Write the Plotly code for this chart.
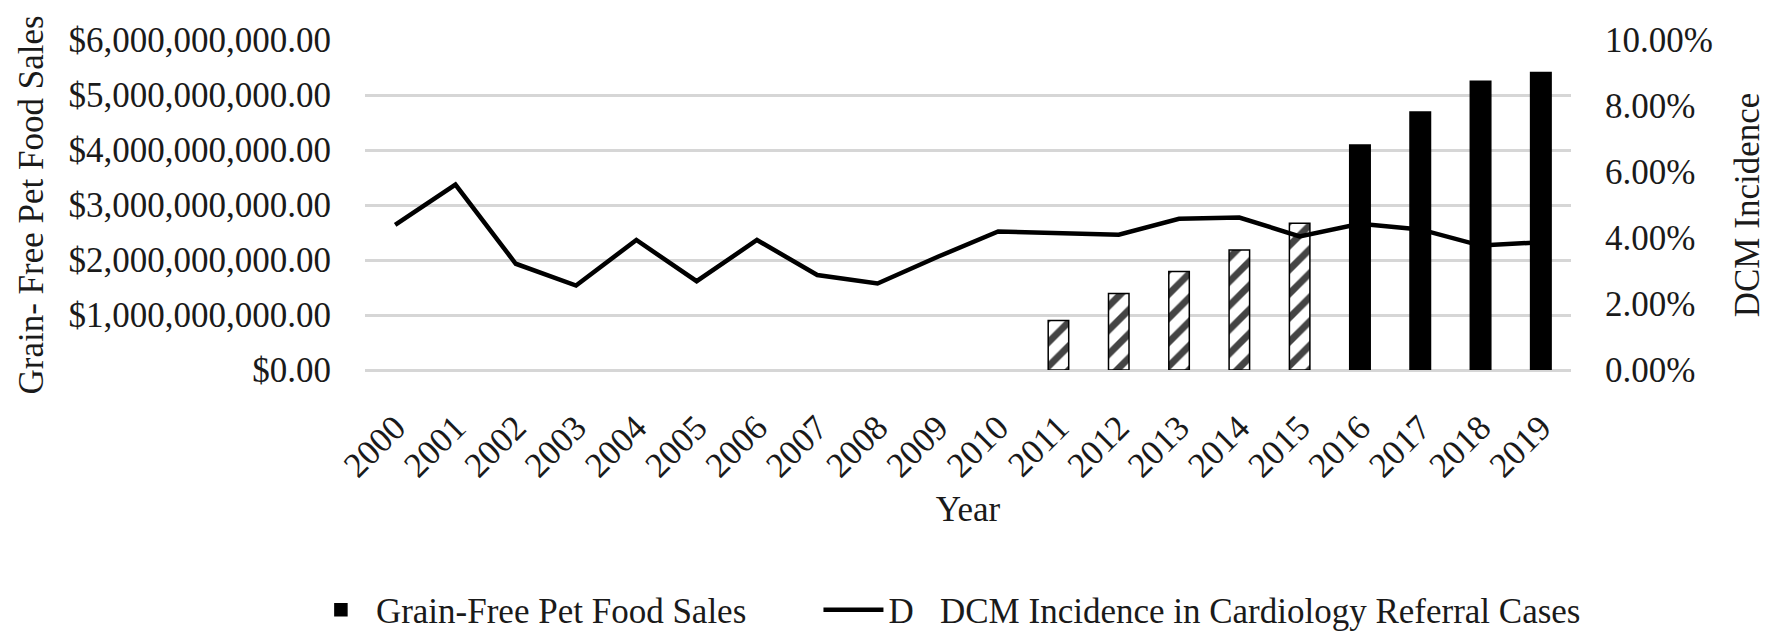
import plotly.graph_objects as go

years = [str(y) for y in range(2000, 2020)]
sales = [None, None, None, None, None, None, None, None, None, None, None,
         0.90e9, 1.39e9, 1.79e9, 2.18e9, 2.67e9,
         4.09e9, 4.69e9, 5.25e9, 5.41e9]
dcm = [0.0440, 0.0562, 0.0322, 0.0256, 0.0394, 0.0269, 0.0394, 0.0288, 0.0262, 0.0343,
       0.0420, 0.0415, 0.0410, 0.0458, 0.0462, 0.0405, 0.0443, 0.0426, 0.0377, 0.0387]
hatched_years = ["2011", "2012", "2013", "2014", "2015"]

bar_colors = ["white" if y in hatched_years else "black" for y in years]
bar_shapes = ["/" if y in hatched_years else "" for y in years]

FONT = "Liberation Serif"
FS = 35

fig = go.Figure()
fig.add_trace(go.Bar(
    x=years, y=sales, name="Grain-Free Pet Food Sales",
    width=0.34,
    marker=dict(color=bar_colors, line=dict(color="black", width=1.5),
                pattern=dict(shape=bar_shapes, fgcolor="black", bgcolor=bar_colors,
                             fgopacity=1, size=17, solidity=0.4, fillmode="overlay")),
    yaxis="y", legend="legend",
))
fig.add_trace(go.Scatter(
    x=years, y=dcm, name="D\u00a0\u00a0\u00a0DCM Incidence in Cardiology Referral Cases",
    mode="lines", line=dict(color="black", width=4.5),
    yaxis="y2", legend="legend2",
))

legend_common = dict(orientation="h", yanchor="middle", font=dict(size=FS),
                     itemwidth=60, bgcolor="rgba(0,0,0,0)")

fig.update_layout(
    width=1772, height=644,
    margin=dict(l=357, r=209, t=32, b=265),
    paper_bgcolor="white", plot_bgcolor="white",
    font=dict(family=FONT, size=FS, color="#1a1a1a"),
    showlegend=True,
    legend=dict(x=-0.049, y=-0.727, xanchor="left", **legend_common),
    legend2=dict(x=0.376, y=-0.727, xanchor="left", **legend_common),
    xaxis=dict(type="category", tickangle=-45, showgrid=False, showline=False,
               ticks="outside", ticklen=22, tickcolor="rgba(0,0,0,0)",
               tickfont=dict(size=FS),
               title=dict(text="Year", font=dict(size=FS), standoff=12)),
    yaxis=dict(range=[0, 6e9], dtick=1e9, tickformat="$,.2f",
               showgrid=True, gridcolor="#d6d6d6", gridwidth=3,
               zeroline=True, zerolinecolor="#d6d6d6", zerolinewidth=3,
               showline=False, ticks="outside", ticklen=26, tickcolor="rgba(0,0,0,0)",
               title=dict(text="Grain- Free Pet Food Sales", font=dict(size=FS), standoff=14)),
    yaxis2=dict(range=[0, 0.10], dtick=0.02, tickformat=".2%", overlaying="y", side="right",
                showgrid=False, zeroline=False, showline=False,
                ticks="outside", ticklen=26, tickcolor="rgba(0,0,0,0)",
                title=dict(text="DCM Incidence", font=dict(size=FS), standoff=22)),
)

fig.write_html("out.html")
